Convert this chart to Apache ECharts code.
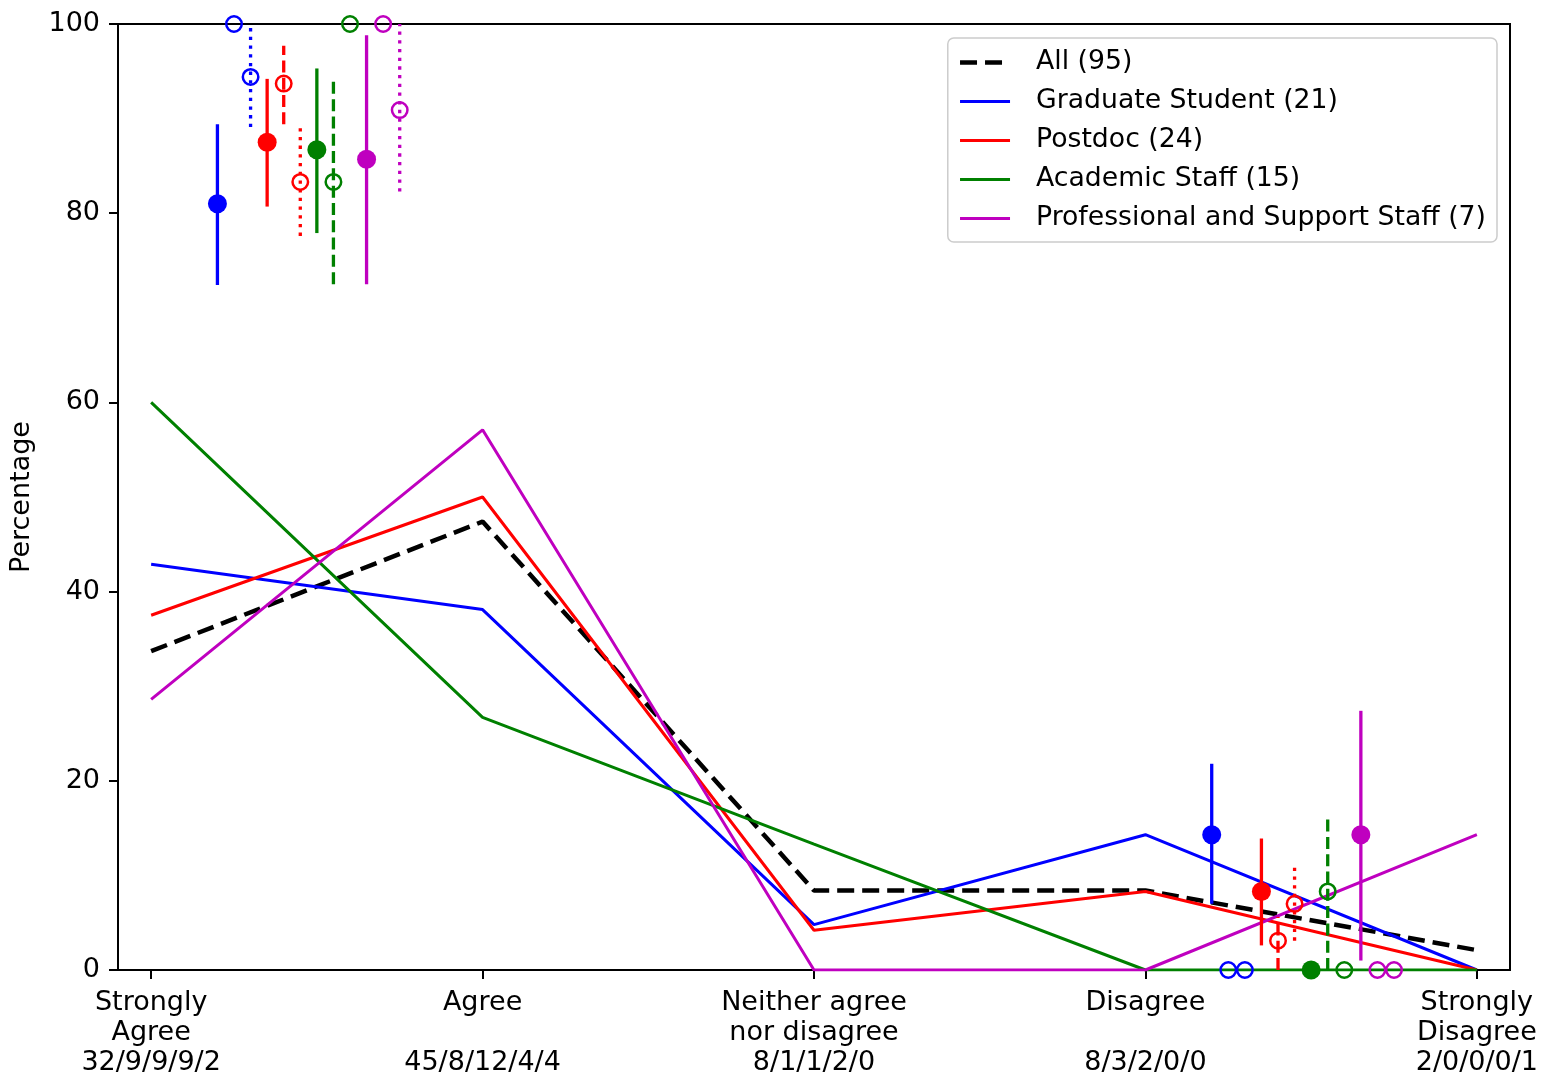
<!DOCTYPE html>
<html><head><meta charset="utf-8">
<script src="https://cdn.jsdelivr.net/npm/echarts@6/dist/echarts.min.js"></script>
<style>html,body{margin:0;padding:0;background:#fff}#chart{width:1550px;height:1078px}</style>
</head><body><div id="chart"></div>
<script>
// ---- data ----
const categories = ['Strongly\nAgree', 'Agree\n', 'Neither agree\nnor disagree', 'Disagree\n', 'Strongly\nDisagree'];
const countLabels = ['32/9/9/9/2', '45/8/12/4/4', '8/1/1/2/0', '8/3/2/0/0', '2/0/0/0/1'];
const seriesNames = ['All (95)', 'Graduate Student (21)', 'Postdoc (24)', 'Academic Staff (15)', 'Professional and Support Staff (7)'];
const allPct      = [33.7, 47.4, 8.4, 8.4, 2.1];
const gradPct     = [42.9, 38.1, 4.8, 14.3, 0];
const postdocPct  = [37.5, 50.0, 4.2, 8.3, 0];
const academicPct = [60.0, 26.7, 13.3, 0, 0];
const profPct     = [28.6, 57.1, 0, 0, 14.3];
const yTicks = [0, 20, 40, 60, 80, 100];

// summary markers (agree side, disagree side)
const topX    = [0.20, 0.25, 0.30, 0.35, 0.40, 0.45, 0.50, 0.55, 0.60, 0.65, 0.70, 0.75];
const topVal  = [81.0, 100, 94.4, 87.5, 93.7, 83.3, 86.7, 83.3, 100, 85.7, 100, 90.9];
const topLow  = [72.4, null, 89.1, 80.7, 89.4, 77.6, 77.9, 72.5, null, 72.5, null, 82.3];
const topHigh = [89.4, null, 100, 94.2, 97.7, 89.0, 95.3, 94.0, null, 98.8, null, 100];
const botX    = [3.20, 3.25, 3.30, 3.35, 3.40, 3.45, 3.50, 3.55, 3.60, 3.65, 3.70, 3.75];
const botVal  = [14.3, 0, 0, 8.3, 3.1, 7.0, 0, 8.3, 0, 14.3, 0, 0];
const botLow  = [7.0, null, null, 2.6, 0, 3.1, null, 0, null, 1.0, null, null];
const botHigh = [21.8, null, null, 13.9, 5.6, 11.1, null, 16.2, null, 27.4, null, null];
const markerGroup = [1, 1, 1, 2, 2, 2, 3, 3, 3, 4, 4, 4];
const markerKind  = [0, 1, 2, 0, 1, 2, 0, 1, 2, 0, 1, 2]; // 0 solid/filled, 1 dashed/open, 2 dotted/open

// ---- styles ----
const colors = ['#000000', '#0000ff', '#ff0000', '#008000', '#bf00bf'];
const barDash = [null, [12, 5.3], [3.3, 5.4]];
const FONT = 'DejaVu Sans';
const FS = 27;
const LEGEND_FS = 26.7;

const lineSeriesData = [allPct, gradPct, postdocPct, academicPct, profPct];
const lineStyles = lineSeriesData.map((_, s) => s === 0
  ? {color: colors[0], width: 4.5, type: [17, 8]}
  : {color: colors[s], width: 3, type: 'solid'});
const lineSeries = lineSeriesData.map((vals, s) => ({
  name: seriesNames[s],
  type: 'line',
  data: vals.map((v, i) => [i, v]),
  symbol: 'none',
  z: 2,
  color: colors[s],
  lineStyle: lineStyles[s],
  emphasis: {disabled: true}
}));

const barData = [];
const filledData = [];
const openData = [];
function addCluster(xs, vals, lows, highs) {
  xs.forEach((x, i) => {
    const g = markerGroup[i], k = markerKind[i];
    if (lows[i] !== null && highs[i] !== null) barData.push([x, lows[i], highs[i], g, k]);
    if (k === 0) {
      filledData.push({value: [x, vals[i]], itemStyle: {color: colors[g], opacity: 1}});
    } else {
      openData.push({value: [x, vals[i]], itemStyle: {color: 'rgba(0,0,0,0)', borderColor: colors[g], borderWidth: 2.5, opacity: 1}});
    }
  });
}
addCluster(topX, topVal, topLow, topHigh);
addCluster(botX, botVal, botLow, botHigh);

const chart = echarts.init(document.getElementById('chart'), null, {renderer: 'canvas'});
chart.setOption({
  animation: false,
  backgroundColor: '#ffffff',
  textStyle: {fontFamily: FONT},
  grid: {left: 117, right: 40, top: 24, bottom: 108, show: true, borderColor: '#000', borderWidth: 2, backgroundColor: 'transparent'},
  legend: {
    data: seriesNames.map((n, s) => ({name: n, lineStyle: {width: lineStyles[s].width, type: lineStyles[s].type, color: colors[s]}})),
    orient: 'vertical',
    right: 53, top: 38,
    itemWidth: 50, itemHeight: 27, itemGap: 12,
    padding: [11, 11, 10, 10],
    backgroundColor: 'rgba(255,255,255,0.85)',
    borderColor: '#cccccc', borderWidth: 1.5, borderRadius: 6,
    itemStyle: {opacity: 0},
    lineStyle: {width: 3},
    textStyle: {fontSize: LEGEND_FS, color: '#000', fontFamily: FONT, padding: [0, 0, 0, 21]},
    selectedMode: false
  },
  xAxis: {
    type: 'value', min: -0.1, max: 4.1,
    axisLine: {show: true, onZero: false, lineStyle: {color: '#000', width: 2}},
    axisTick: {show: true, customValues: [0, 1, 2, 3, 4], length: 9, lineStyle: {color: '#000', width: 2}},
    axisLabel: {
      customValues: [0, 1, 2, 3, 4],
      formatter: v => categories[Math.round(v)] + '\n' + countLabels[Math.round(v)],
      fontSize: FS, lineHeight: 30, margin: 18, color: '#000', fontFamily: FONT
    },
    splitLine: {show: false}
  },
  yAxis: {
    type: 'value', min: yTicks[0], max: yTicks[yTicks.length - 1], interval: 20,
    name: 'Percentage', nameLocation: 'middle', nameGap: 83, nameRotate: 90,
    nameTextStyle: {fontSize: FS, color: '#000', fontFamily: FONT},
    axisLine: {show: true, onZero: false, lineStyle: {color: '#000', width: 2}},
    axisTick: {show: true, length: 9, lineStyle: {color: '#000', width: 2}},
    axisLabel: {fontSize: FS, margin: 18, color: '#000', fontFamily: FONT},
    splitLine: {show: false}
  },
  series: [
    ...lineSeries,
    {
      type: 'custom', z: 3, clip: true,
      encode: {x: 0, y: [1, 2]},
      data: barData,
      renderItem: (params, api) => {
        const x = api.value(0), lo = api.value(1), hi = api.value(2);
        const g = api.value(3), k = api.value(4);
        const p1 = api.coord([x, lo]), p2 = api.coord([x, hi]);
        return {
          type: 'line',
          shape: {x1: p1[0], y1: p1[1], x2: p2[0], y2: p2[1]},
          style: {stroke: colors[g], lineWidth: 3.3, lineDash: barDash[k], lineCap: 'butt'}
        };
      }
    },
    {type: 'scatter', z: 4, clip: true, symbol: 'circle', symbolSize: 19, itemStyle: {opacity: 1}, data: filledData, emphasis: {disabled: true}},
    {type: 'scatter', z: 4, clip: true, symbol: 'circle', symbolSize: 15.5, itemStyle: {opacity: 1}, data: openData, emphasis: {disabled: true}}
  ]
});
</script></body></html>
